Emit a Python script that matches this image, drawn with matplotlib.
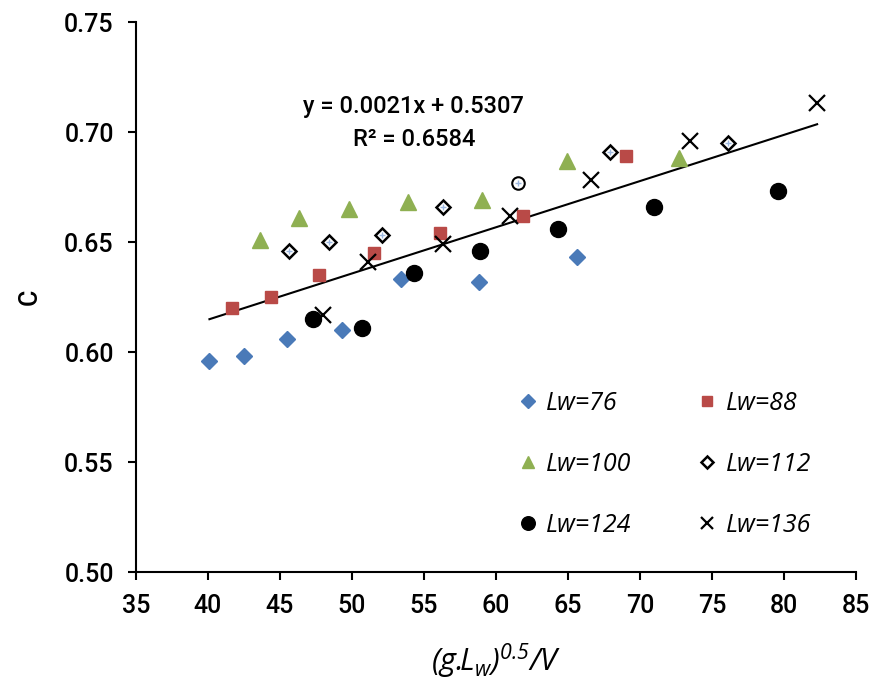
import matplotlib
matplotlib.use("Agg")
import matplotlib.pyplot as plt
import numpy as np

plt.rcParams['font.family'] = ['Roboto', 'DejaVu Sans']
plt.rcParams['mathtext.fontset'] = 'custom'
plt.rcParams['mathtext.it'] = 'Open Sans:italic'
plt.rcParams['mathtext.rm'] = 'Open Sans:italic'

# Data
x76 = [40.1, 42.5, 45.5, 49.3, 53.4, 58.8, 65.6]
y76 = [0.596, 0.598, 0.606, 0.610, 0.633, 0.632, 0.643]

x88 = [41.7, 44.4, 47.7, 51.5, 56.1, 61.9, 69.0]
y88 = [0.620, 0.625, 0.635, 0.645, 0.654, 0.662, 0.689]

x100 = [43.6, 46.3, 49.8, 53.9, 59.0, 64.9, 72.7]
y100 = [0.651, 0.661, 0.665, 0.668, 0.669, 0.687, 0.688]

x112 = [45.6, 48.4, 52.1, 56.3, 67.9, 76.1]
y112 = [0.646, 0.650, 0.653, 0.666, 0.691, 0.695]

x112_circle = [61.55]
y112_circle = [0.677]

x124 = [47.3, 50.7, 54.3, 58.9, 64.3, 71.0, 79.6]
y124 = [0.615, 0.611, 0.636, 0.646, 0.656, 0.666, 0.673]

x136 = [48.0, 51.1, 56.3, 61.0, 66.6, 73.5, 82.3]
y136 = [0.617, 0.641, 0.649, 0.662, 0.678, 0.696, 0.713]

slope = 0.0021
intercept = 0.5307
eq_text = "y = 0.0021x + 0.5307"
r2_text = "R² = 0.6584"

fig = plt.figure(figsize=(8.71, 6.84), dpi=100)
ax = fig.add_axes([136/871, 1 - 572/684, 720/871, 550/684])

c_blue = '#4A7AB8'
c_red = '#B94A47'
c_green = '#8FB052'

h76, = ax.plot(x76, y76, ls='none', marker='D', ms=8, color=c_blue, mec=c_blue, label='Lw=76', zorder=3)
h88, = ax.plot(x88, y88, ls='none', marker='s', ms=9, color=c_red, mec=c_red, label='Lw=88', zorder=3)
h100, = ax.plot(x100, y100, ls='none', marker='^', ms=11, color=c_green, mec=c_green, label='Lw=100', zorder=3)
h112, = ax.plot(x112, y112, ls='none', marker='D', ms=7, mfc='white', mec='black', mew=1.8, label='Lw=112', zorder=3)
ax.plot(x112, y112, ls='none', marker='+', ms=4, color='#9DB8E0', mew=1.0, zorder=4)
ax.plot(x112_circle, y112_circle, ls='none', marker='o', ms=9, mfc='white', mec='black', mew=1.5, zorder=3)
ax.plot(x112_circle, y112_circle, ls='none', marker='+', ms=4, color='#9DB8E0', mew=1.0, zorder=4)
h124, = ax.plot(x124, y124, ls='none', marker='o', ms=11.5, color='black', label='Lw=124', zorder=3)
h136, = ax.plot(x136, y136, ls='none', marker='x', ms=11, color='black', mew=1.6, label='Lw=136', zorder=3)

allx = x76 + x88 + x100 + x112 + x112_circle + x124 + x136
xl = np.array([min(allx), max(allx)])
ax.plot(xl, slope * xl + intercept, color='black', lw=1.5, zorder=2)

ax.text(54.3, 0.7114, eq_text, ha='center', va='center', fontsize=17, fontweight='medium')
ax.text(54.3, 0.6964, r2_text, ha='center', va='center', fontsize=17, fontweight='medium')

ax.set_xlim(35, 85)
ax.set_ylim(0.50, 0.75)
ax.set_xticks(np.arange(35, 86, 5))
ax.set_yticks(np.arange(0.50, 0.751, 0.05))
ax.set_yticklabels([f"{v:.2f}" for v in np.arange(0.50, 0.751, 0.05)])
ax.spines['top'].set_visible(False)
ax.spines['right'].set_visible(False)
ax.spines['left'].set_linewidth(1.5)
ax.spines['bottom'].set_linewidth(1.5)
ax.tick_params(axis='both', direction='out', length=6, width=1.5, labelsize=18, pad=10)
for lab in ax.get_xticklabels() + ax.get_yticklabels():
    lab.set_fontweight('medium')

ax.set_ylabel('C', fontsize=18, labelpad=16, fontweight='medium')
ax.set_xlabel(r'$(g.\!\!L_{w})^{0.5}/V$', fontsize=22, labelpad=17)

leg = ax.legend(handles=[h76, h100, h124, h88, h112, h136], ncol=2, loc='upper left',
                bbox_to_anchor=(0.53, 0.33), borderaxespad=0, borderpad=0, frameon=False,
                prop={'style': 'italic', 'size': 18, 'family': 'Open Sans'},
                handlelength=0.8, handletextpad=0.35, columnspacing=2.6, labelspacing=1.45, markerscale=0.85)

fig.savefig('out.png', dpi=100)
